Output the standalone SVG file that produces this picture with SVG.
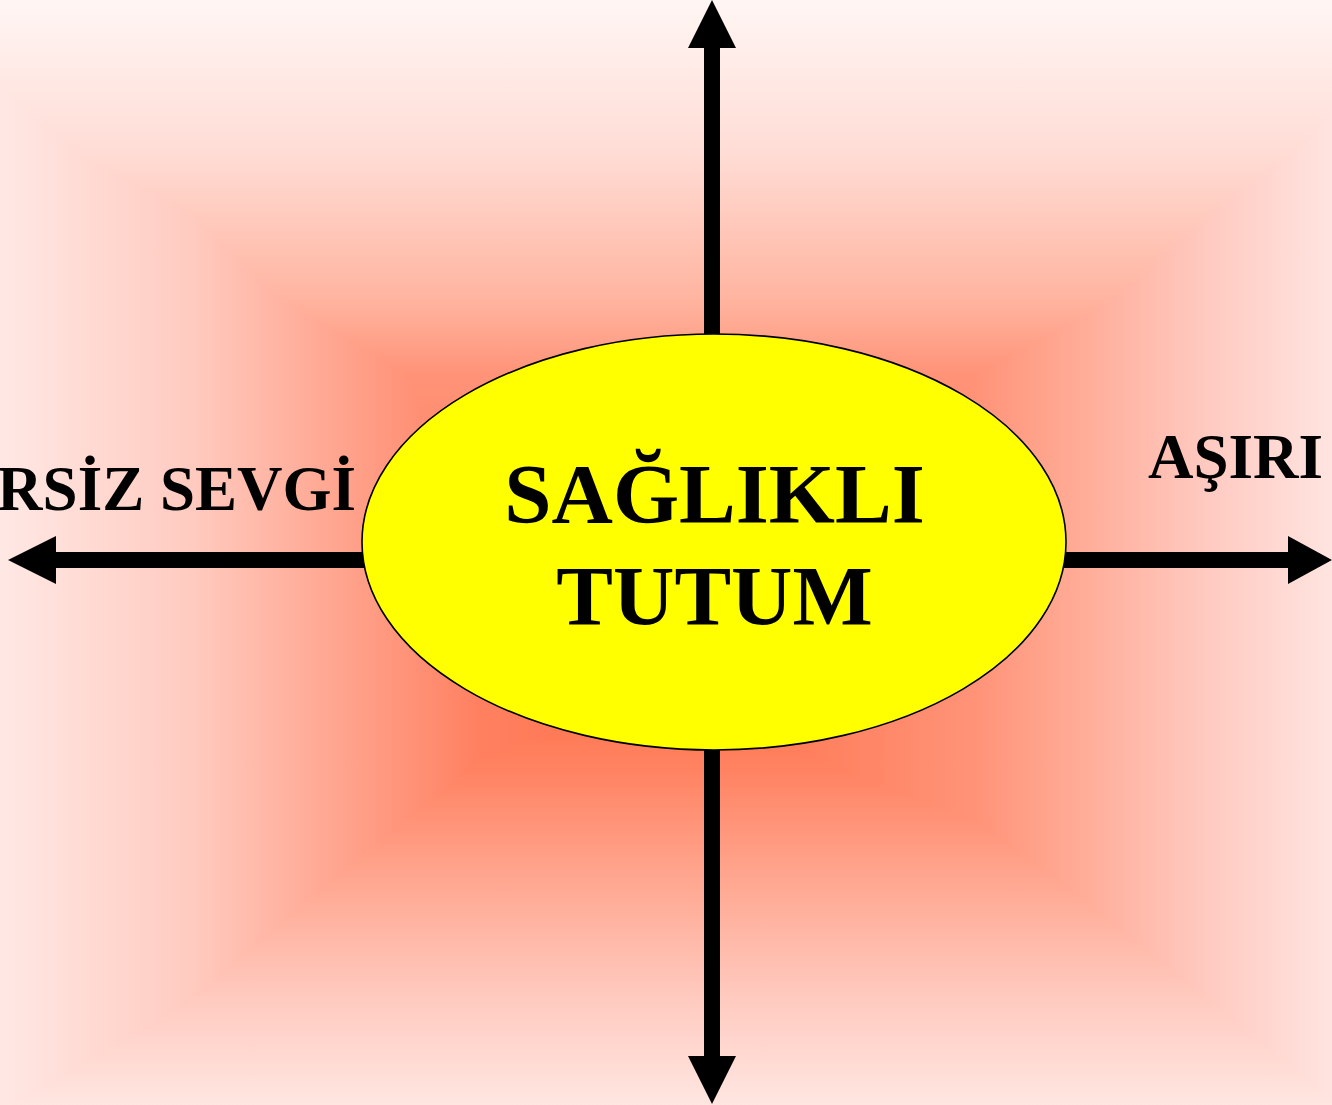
<svg xmlns="http://www.w3.org/2000/svg" width="1332" height="1105" viewBox="0 0 1332 1105">
<defs>
<linearGradient id="gx" gradientUnits="userSpaceOnUse" x1="0" y1="0" x2="1332" y2="0">
<stop offset="0" stop-color="#FFE8E4"/>
<stop offset="0.143" stop-color="#FFCBC0"/>
<stop offset="0.27" stop-color="#FF9F88"/>
<stop offset="0.36" stop-color="#FF8060"/>
<stop offset="0.507" stop-color="#FF7048"/>
<stop offset="0.732" stop-color="#FF9378"/>
<stop offset="0.796" stop-color="#FFA791"/>
<stop offset="0.9" stop-color="#FFC8BE"/>
<stop offset="1" stop-color="#FFE4E0"/>
</linearGradient>
<linearGradient id="gy" gradientUnits="userSpaceOnUse" x1="0" y1="0" x2="0" y2="1105">
<stop offset="0" stop-color="#FFF6F4"/>
<stop offset="0.136" stop-color="#FFDDD6"/>
<stop offset="0.271" stop-color="#FFB4A0"/>
<stop offset="0.339" stop-color="#FF9378"/>
<stop offset="0.624" stop-color="#FF7048"/>
<stop offset="0.70" stop-color="#FF8464"/>
<stop offset="0.80" stop-color="#FFA892"/>
<stop offset="0.90" stop-color="#FFC9BE"/>
<stop offset="1" stop-color="#FFE6E1"/>
</linearGradient>
<style>
.shaft{stroke:#000;stroke-width:16;fill:none}
.head{fill:#000}
.lbl{font-family:"Liberation Serif","Times New Roman",serif;font-weight:bold;fill:#000}
</style>
</defs>
<g id="background" style="isolation:isolate">
<rect x="0" y="0" width="1332" height="1105" fill="url(#gx)"/>
<rect x="0" y="0" width="1332" height="1105" fill="url(#gy)" style="mix-blend-mode:lighten"/>
</g>
<g id="connectors">
<line class="shaft" x1="712" y1="46" x2="712" y2="400"/>
<polygon class="head" points="712,0 736,48 688,48"/>
<line class="shaft" x1="712" y1="700" x2="712" y2="1058"/>
<polygon class="head" points="712,1104 736,1056 688,1056"/>
<line class="shaft" x1="54" y1="560" x2="420" y2="560"/>
<polygon class="head" points="8,560 56,536 56,584"/>
<line class="shaft" x1="1000" y1="560" x2="1290" y2="560"/>
<polygon class="head" points="1332,560 1288,536 1288,584"/>
</g>
<g id="center-node">
<ellipse cx="714" cy="542" rx="352" ry="208" fill="#FFFF00" stroke="#000" stroke-width="1.6"/>
<text class="lbl" x="714.5" y="523" font-size="85" text-anchor="middle">SAĞLIKLI</text>
<text class="lbl" x="714.5" y="625" font-size="85" text-anchor="middle">TUTUM</text>
</g>
<g id="left-label">
<text class="lbl" x="356" y="510" font-size="63" text-anchor="end">RSİZ SEVGİ</text>
</g>
<g id="right-label">
<text class="lbl" x="1148" y="478" font-size="63">AŞIRI</text>
</g>
</svg>
